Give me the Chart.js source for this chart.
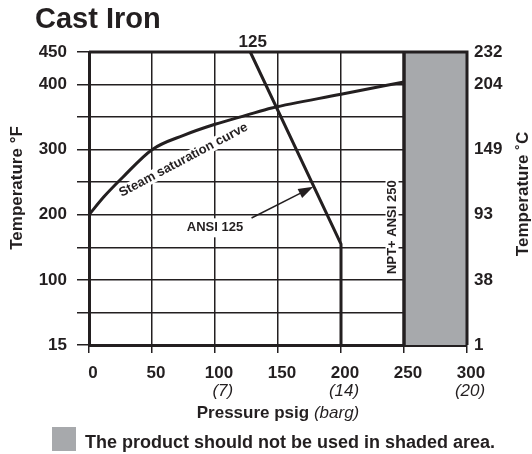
<!DOCTYPE html>
<html>
<head>
<meta charset="utf-8">
<script src="https://cdn.jsdelivr.net/npm/chart.js@4.4.1/dist/chart.umd.min.js"></script>
<style>
  html, body { margin: 0; padding: 0; background: #fff; }
  #wrap { width: 532px; height: 454px; }
</style>
</head>
<body>
<div id="wrap"><canvas id="chart" width="532" height="454"></canvas></div>
<script>
// pressure axis (psig) + barg under some ticks
const pressureTicks = [0, 50, 100, 150, 200, 250, 300];
const bargTicks = [100, 200, 300];
const bargLabels = ['(7)', '(14)', '(20)'];

// temperature axis: grid every 50, labels on these positions only
const tempTicks = [0, 100, 200, 300, 400, 450];
const fahrenheitLabels = ['15', '100', '200', '300', '400', '450'];
const celsiusLabels = ['1', '38', '93', '149', '204', '232'];

// steam saturation curve (psig, F)
const steamPressure = [0, 12, 27, 50, 75, 100, 125, 145, 200, 250];
const steamTemp = [200, 228, 258, 300, 322, 339, 353, 364, 385, 404];

// ANSI 125 limit
const ansi125Pressure = [128, 200, 200];
const ansi125Temp = [450, 155, 0];

// NPT + ANSI 250 limit
const ansi250Pressure = [250, 250];
const ansi250Temp = [0, 450];

// shaded area, not to be used
const shadedPressure = [250, 300];
const shadedTemp = [450, 450];

// arrow from "ANSI 125" label to its line
const arrowFrom = [129, 195];
const arrowTo = [178, 243];

const ink = '#231f20';
const shade = '#a7a9ac';
const FAMILY = '"Liberation Sans", Arial, Helvetica, sans-serif';

const pts = (xs, ys) => xs.map((x, i) => ({ x: x, y: ys[i] }));

// text on a white patch so the grid is broken behind it
function patchText(ctx, text, cx, cy, angle, font, padX, padY, h) {
  ctx.save();
  ctx.translate(cx, cy);
  ctx.rotate(angle);
  ctx.font = font;
  const w = ctx.measureText(text).width;
  ctx.fillStyle = '#fff';
  ctx.fillRect(-w / 2 - padX, -h / 2 - padY, w + padX * 2, h + padY * 2);
  ctx.fillStyle = ink;
  ctx.textAlign = 'center';
  ctx.textBaseline = 'middle';
  ctx.fillText(text, 0, 0);
  ctx.restore();
}

const annotations = {
  id: 'annotations',
  afterDraw(chart) {
    const { ctx, chartArea: a } = chart;
    const x = chart.scales.x, y = chart.scales.y;
    ctx.save();

    // top + right frame
    ctx.strokeStyle = ink;
    ctx.lineWidth = 3;
    ctx.beginPath();
    ctx.moveTo(a.left, a.top);
    ctx.lineTo(a.right, a.top);
    ctx.lineTo(a.right, a.bottom);
    ctx.stroke();

    // curve labels
    patchText(ctx, 'Steam saturation curve', x.getPixelForValue(75), y.getPixelForValue(284),
      -28 * Math.PI / 180, 'bold 13px ' + FAMILY, 2, 1, 11);
    patchText(ctx, 'ANSI 125', x.getPixelForValue(100), y.getPixelForValue(180),
      0, 'bold 13px ' + FAMILY, 3, 4, 11);
    patchText(ctx, 'NPT+ ANSI 250', x.getPixelForValue(240.5), y.getPixelForValue(181),
      -Math.PI / 2, 'bold 13px ' + FAMILY, 3, 1, 11);

    ctx.fillStyle = ink;
    ctx.font = 'bold 17px ' + FAMILY;
    ctx.textAlign = 'center';
    ctx.textBaseline = 'middle';
    ctx.fillText('125', x.getPixelForValue(130), a.top - 10);

    // arrow
    const x0 = x.getPixelForValue(arrowFrom[0]), y0 = y.getPixelForValue(arrowFrom[1]);
    const x1 = x.getPixelForValue(arrowTo[0]), y1 = y.getPixelForValue(arrowTo[1]);
    const ang = Math.atan2(y1 - y0, x1 - x0);
    const hl = 15, hw = 5;
    ctx.strokeStyle = ink;
    ctx.lineWidth = 1.5;
    ctx.beginPath();
    ctx.moveTo(x0, y0);
    ctx.lineTo(x1 - Math.cos(ang) * hl * 0.8, y1 - Math.sin(ang) * hl * 0.8);
    ctx.stroke();
    ctx.beginPath();
    ctx.moveTo(x1, y1);
    ctx.lineTo(x1 - Math.cos(ang) * hl + Math.sin(ang) * hw, y1 - Math.sin(ang) * hl - Math.cos(ang) * hw);
    ctx.lineTo(x1 - Math.cos(ang) * hl - Math.sin(ang) * hw, y1 - Math.sin(ang) * hl + Math.cos(ang) * hw);
    ctx.closePath();
    ctx.fill();

    // barg labels, right aligned with the psig label above
    const tickFont = 'bold 17px ' + FAMILY;
    bargTicks.forEach((v, i) => {
      ctx.font = tickFont;
      const nw = ctx.measureText(String(v)).width;
      const right = x.getPixelForValue(v) + 4 + nw / 2;
      ctx.font = 'italic 17px ' + FAMILY;
      ctx.textAlign = 'right';
      ctx.fillText(bargLabels[i], right, 391);
    });

    // x axis title, mixed style
    const boldPart = 'Pressure psig ', itPart = '(barg)';
    ctx.font = 'bold 17px ' + FAMILY;
    const bw = ctx.measureText(boldPart).width;
    ctx.font = 'italic 17px ' + FAMILY;
    const iw = ctx.measureText(itPart).width;
    const sx = (a.left + a.right) / 2 - (bw + iw) / 2;
    ctx.textAlign = 'left';
    ctx.textBaseline = 'alphabetic';
    ctx.font = 'bold 17px ' + FAMILY;
    ctx.fillText(boldPart, sx, 418);
    ctx.font = 'italic 17px ' + FAMILY;
    ctx.fillText(itPart, sx + bw, 418);

    // y axis titles
    ctx.font = 'bold 17px ' + FAMILY;
    ctx.textAlign = 'center';
    ctx.textBaseline = 'middle';
    ctx.save();
    ctx.translate(17, 188);
    ctx.rotate(-Math.PI / 2);
    ctx.fillText('Temperature \u00b0F', 0, 0);
    ctx.restore();
    ctx.save();
    ctx.translate(523, 194);
    ctx.rotate(-Math.PI / 2);
    ctx.fillText('Temperature \u02daC', 0, 0);
    ctx.restore();

    // legend
    ctx.fillStyle = shade;
    ctx.fillRect(52, 427, 24, 24);
    ctx.fillStyle = ink;
    ctx.font = 'bold 18px ' + FAMILY;
    ctx.textAlign = 'left';
    ctx.textBaseline = 'alphabetic';
    ctx.fillText('The product should not be used in shaded area.', 85, 448);

    ctx.restore();
  }
};

const chart = new Chart(document.getElementById('chart'), {
  type: 'line',
  data: {
    datasets: [
      {
        data: pts(steamPressure, steamTemp),
        borderColor: ink, borderWidth: 3, pointRadius: 0,
        cubicInterpolationMode: 'monotone', fill: false, clip: 4
      },
      {
        data: pts(ansi125Pressure, ansi125Temp),
        borderColor: ink, borderWidth: 3, pointRadius: 0, tension: 0, fill: false, clip: 4
      },
      {
        data: pts(ansi250Pressure, ansi250Temp),
        borderColor: ink, borderWidth: 3.5, pointRadius: 0, tension: 0, fill: false, clip: 4
      },
      {
        data: pts(shadedPressure, shadedTemp),
        borderWidth: 0, pointRadius: 0, backgroundColor: shade, fill: 'origin', order: 10
      }
    ]
  },
  options: {
    responsive: false,
    animation: false,
    devicePixelRatio: 1,
    events: [],
    layout: { padding: { left: 35, top: 0, right: 0, bottom: 0 } },
    plugins: {
      legend: { display: false },
      tooltip: { enabled: false },
      title: {
        display: true,
        text: 'Cast Iron',
        align: 'start',
        color: ink,
        font: { family: FAMILY, size: 29, weight: 'bold' },
        padding: { top: 2.5, bottom: 14.7 }
      }
    },
    scales: {
      x: {
        type: 'linear', min: 0, max: 300, z: 1,
        afterBuildTicks: s => { s.ticks = pressureTicks.map(v => ({ value: v })); },
        afterFit: s => { s.height = 109; },
        grid: { color: ink, lineWidth: 1.5, tickLength: 8, tickColor: ink },
        border: { color: ink, width: 3 },
        ticks: {
          color: ink, font: { family: FAMILY, size: 17, weight: 'bold' },
          padding: 10, labelOffset: 4, maxRotation: 0, autoSkip: false,
          callback: v => String(v)
        }
      },
      y: {
        type: 'linear', min: 0, max: 450, z: 1,
        afterFit: s => { s.width = 54; },
        grid: { color: ink, lineWidth: 1.5, tickLength: 12, tickColor: ink },
        border: { color: ink, width: 3 },
        ticks: {
          stepSize: 50, color: ink, padding: 10, autoSkip: false,
          font: { family: FAMILY, size: 17, weight: 'bold' },
          callback: v => { const i = tempTicks.indexOf(v); return i >= 0 ? fahrenheitLabels[i] : ''; }
        }
      },
      y2: {
        type: 'linear', position: 'right', min: 0, max: 450,
        afterFit: s => { s.width = 65; },
        grid: { display: false, drawTicks: false },
        border: { display: false },
        ticks: {
          stepSize: 50, color: ink, padding: 7, autoSkip: false,
          font: { family: FAMILY, size: 17, weight: 'bold' },
          callback: v => { const i = tempTicks.indexOf(v); return i >= 0 ? celsiusLabels[i] : ''; }
        }
      }
    }
  },
  plugins: [annotations]
});
</script>
</body>
</html>
